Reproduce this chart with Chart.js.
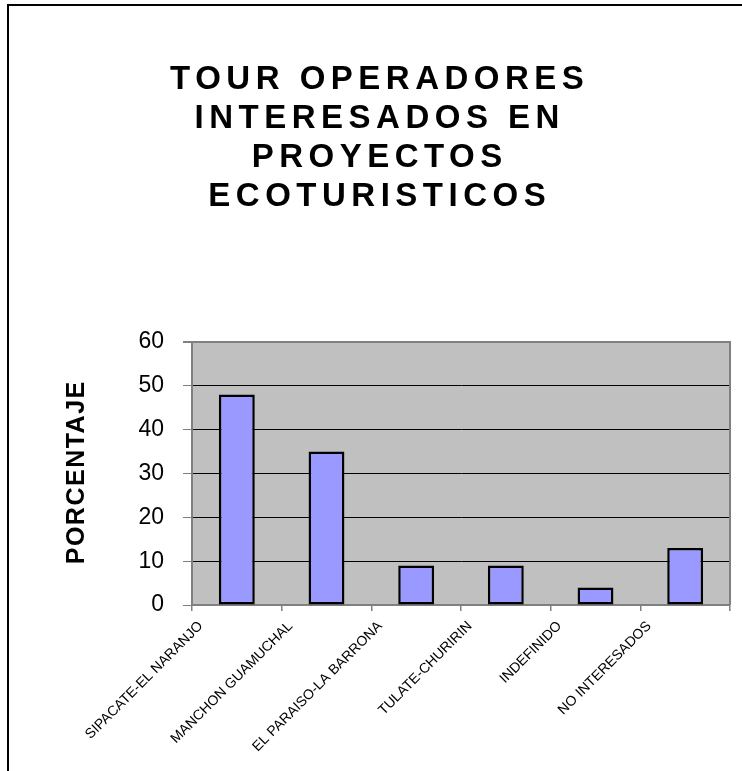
<!DOCTYPE html>
<html>
<head>
<meta charset="utf-8">
<script src="https://cdn.jsdelivr.net/npm/chart.js"></script>
<style>
  html, body { margin: 0; padding: 0; background: #fff; }
  #wrap { width: 742px; height: 771px; }
</style>
</head>
<body>
<div id="wrap"><canvas id="myChart" width="742" height="771"></canvas></div>
<script>
// SET UP
const categories = [
  'SIPACATE-EL NARANJO',
  'MANCHON GUAMUCHAL',
  'EL PARAISO-LA BARRONA',
  'TULATE-CHURIRIN',
  'INDEFINIDO',
  'NO INTERESADOS',
];
const porcentajes = [48, 35, 9, 9, 4, 13];
const titleLines = ['TOUR OPERADORES', 'INTERESADOS EN', 'PROYECTOS', 'ECOTURISTICOS'];
const yTitle = 'PORCENTAJE';

const FONT = '"Liberation Sans", Arial, sans-serif';

// frame, grey plot area and the spaced-out titles
const decor = {
  id: 'decor',
  beforeDraw(chart) {
    const { ctx, chartArea: a } = chart;
    ctx.save();
    ctx.fillStyle = '#fff';
    ctx.fillRect(0, 0, chart.width, chart.height);
    ctx.strokeStyle = '#000';
    ctx.lineWidth = 2;
    ctx.beginPath();
    ctx.moveTo(8, chart.height + 2);
    ctx.lineTo(8, 5);
    ctx.lineTo(chart.width + 2, 5);
    ctx.stroke();
    ctx.fillStyle = '#C0C0C0';
    ctx.fillRect(a.left, a.top, a.right - a.left, a.bottom - a.top);
    ctx.restore();
  },
  beforeDatasetsDraw(chart) {
    const { ctx, chartArea: a } = chart;
    ctx.save();
    ctx.strokeStyle = '#808080';
    ctx.lineWidth = 2;
    ctx.beginPath();
    ctx.moveTo(a.left, a.top);
    ctx.lineTo(a.right, a.top);
    ctx.lineTo(a.right, a.bottom);
    ctx.stroke();
    ctx.restore();
  },
  afterDraw(chart) {
    const { ctx } = chart;
    ctx.save();
    ctx.fillStyle = '#000';
    ctx.textAlign = 'center';
    ctx.textBaseline = 'alphabetic';
    ctx.font = 'bold 33px ' + FONT;
    ctx.letterSpacing = '5.5px';
    titleLines.forEach((line, i) => {
      ctx.fillText(line, 377 + 2.75, 89 + i * 39);
    });
    ctx.font = 'bold 25px ' + FONT;
    ctx.letterSpacing = '1.5px';
    ctx.translate(84, 473);
    ctx.rotate(-Math.PI / 2);
    ctx.fillText(yTitle, 0.75, 0);
    ctx.restore();
  }
};

const data = {
  labels: categories,
  datasets: [{
    data: porcentajes,
    backgroundColor: '#9999FF',
    borderColor: '#000',
    borderWidth: 2.5,
    borderSkipped: false,
    barPercentage: 0.4,
    categoryPercentage: 1,
  }]
};

// CONFIG
const config = {
  type: 'bar',
  data: data,
  plugins: [decor],
  options: {
    responsive: false,
    animation: false,
    layout: { padding: { top: 342, right: 12, left: 0, bottom: 0 } },
    plugins: {
      legend: { display: false },
      title: { display: false },
      tooltip: { enabled: false },
    },
    scales: {
      x: {
        afterFit: (s) => { s.height = 166; },
        border: { color: '#808080', width: 2 },
        grid: {
          drawOnChartArea: false,
          tickLength: 6,
          tickColor: '#808080',
          lineWidth: 1.5,
        },
        ticks: {
          color: '#000',
          font: { family: FONT, size: 14 },
          autoSkip: false,
          maxRotation: 45,
          minRotation: 45,
          labelOffset: -36,
          padding: 7,
        },
      },
      y: {
        min: 0,
        max: 60,
        afterFit: (s) => { s.width = 192; },
        border: { color: '#808080', width: 2 },
        grid: {
          color: (c) => (c.tick && c.tick.value === 60 ? '#808080' : '#000'),
          lineWidth: (c) => (c.tick && c.tick.value === 60 ? 2 : 1),
          tickLength: 9,
          tickColor: '#808080',
        },
        ticks: {
          stepSize: 10,
          color: '#000',
          padding: 19,
          font: { family: FONT, size: 23 },
        },
      },
    },
  },
};

new Chart(document.getElementById('myChart'), config);
</script>
</body>
</html>
